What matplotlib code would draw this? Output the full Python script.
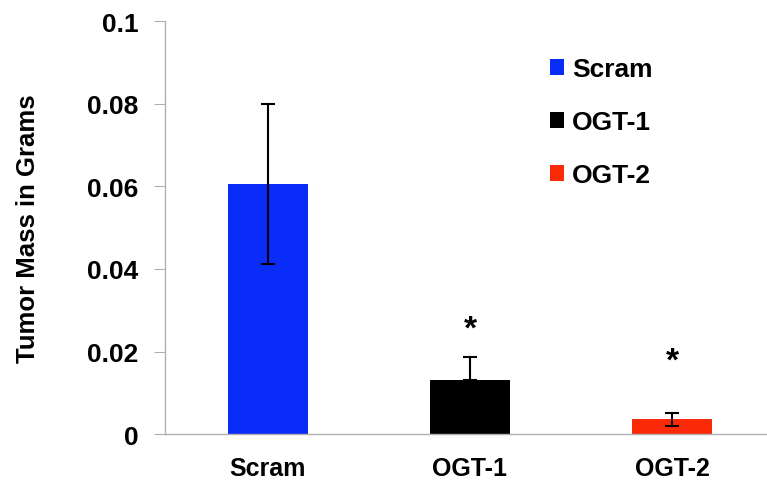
import matplotlib.pyplot as plt
import numpy as np

plt.rcParams['font.family'] = ['Liberation Sans', 'DejaVu Sans']
plt.rcParams['font.weight'] = 'bold'

# Tumor mass per group
groups = ['Scram', 'OGT-1', 'OGT-2']
mass = [0.0605, 0.0131, 0.0036]
err_low = [0.0194, 0.0, 0.0017]
err_high = [0.0194, 0.0055, 0.0015]
colors = ['#0a2cf8', '#000000', '#fb2a08']
signif = ['', '*', '*']
star_y = [0.0, 0.0255, 0.0178]

fig = plt.figure(figsize=(7.67, 4.89), dpi=100)
ax = fig.add_axes([0.215, 0.11, 0.785, 0.845])

x = np.arange(len(groups))
bars = ax.bar(x, mass, width=0.4, color=colors, label=groups, zorder=2)
ax.errorbar(x, mass, yerr=[err_low, err_high], fmt='none', ecolor='black',
            elinewidth=1.5, capsize=5, capthick=1.5, zorder=3)

for xi, s, sy in zip(x, signif, star_y):
    if s:
        ax.text(xi, sy, s, ha='center', va='center', fontsize=24, fontweight='bold')

ax.set_xlim(-0.51, 2.47)
ax.set_ylim(0, 0.1)
ax.set_yticks([0, 0.02, 0.04, 0.06, 0.08, 0.1])
ax.set_yticklabels(['0', '0.02', '0.04', '0.06', '0.08', '0.1'])
ax.set_xticks(x)
ax.set_xticklabels(groups)
ax.tick_params(axis='y', length=8, color='#b0b0b0', labelsize=19, pad=11)
ax.tick_params(axis='x', length=0, labelsize=18, pad=16)

for side in ['top', 'right']:
    ax.spines[side].set_visible(False)
for side in ['left', 'bottom']:
    ax.spines[side].set_color('#b0b0b0')
    ax.spines[side].set_linewidth(1)

ax.set_ylabel('Tumor Mass in Grams', fontsize=18.5, fontweight='bold', labelpad=34)

ax.legend(handles=bars, labels=groups, loc='upper left', bbox_to_anchor=(0.6, 0.97),
          frameon=False, fontsize=19, handlelength=0.55, handleheight=0.55,
          handletextpad=0.3, labelspacing=1.1)

fig.savefig('out.png', dpi=100)
